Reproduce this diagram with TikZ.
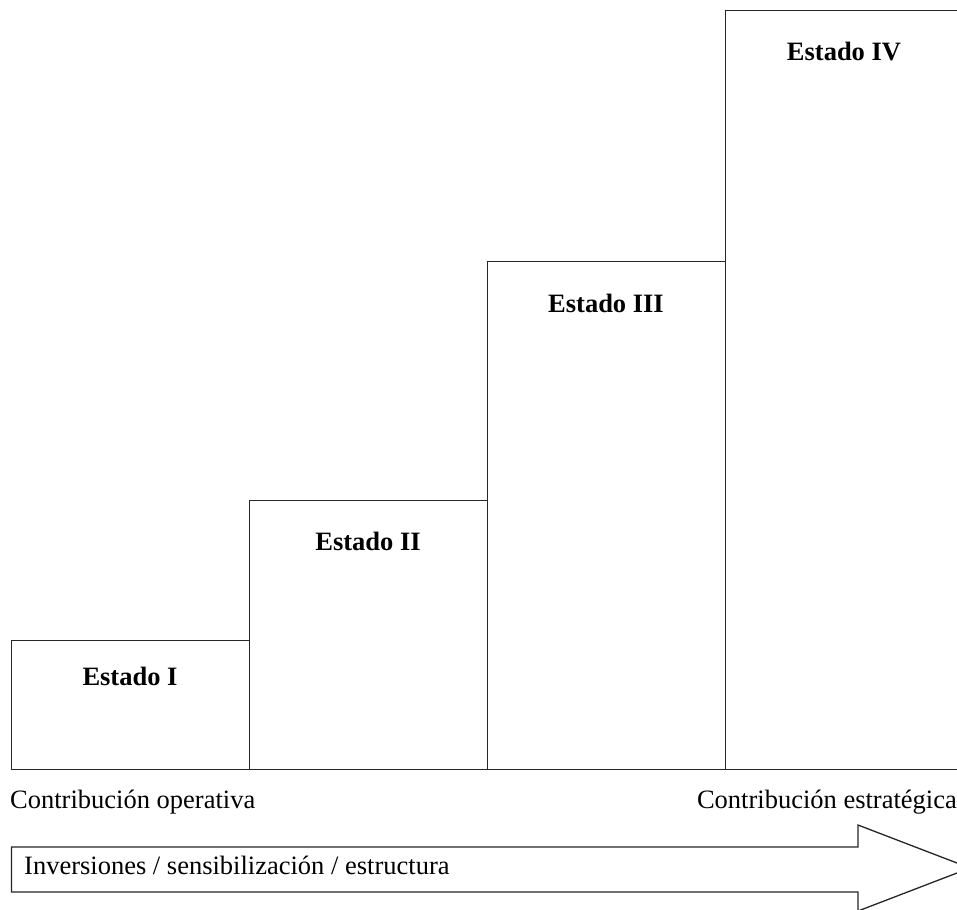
\documentclass[tikz,border=0pt]{standalone}
\usepackage{fontspec}
\setmainfont{Liberation Serif}
\begin{document}
\begin{tikzpicture}[x=1pt,y=-1pt,
  ln/.style={line width=1.3pt, draw=black!85},
  stbox/.style={ln, rectangle, inner sep=0, anchor=north west, minimum width=238pt},
  stlbl/.style={anchor=base, inner sep=0, font=\fontsize{26.5}{30}\selectfont\bfseries},
  txt/.style={inner sep=0, font=\fontsize{26.5}{30}\selectfont}]
\useasboundingbox (0,0) rectangle (957,909);
\clip (0,0) rectangle (957,909);
\node[stbox, minimum height=129pt] (s1) at (11,640) {};
\node[stbox, minimum height=269pt] (s2) at (249,500) {};
\node[stbox, minimum height=508pt] (s3) at (487,261) {};
\node[stbox, minimum height=759pt] (s4) at (725,10) {};
\node[stlbl] (l1) at (130,685) {Estado I};
\node[stlbl] (l2) at (368,550) {Estado II};
\node[stlbl] (l3) at (606,312) {Estado III};
\node[stlbl] (l4) at (844,61) {Estado IV};
\node[txt, anchor=base west] (co) at (10,808) {Contribución operativa};
\node[txt, anchor=base east] (ce) at (957,808) {Contribución estratégica};
\draw[ln, fill=white] (11.5,847) -- (858,847) -- (858,825) -- (970,868) -- (858,911) -- (858,892) -- (11.5,892) -- cycle;
\node[txt, anchor=base west] (inv) at (24,874) {Inversiones / sensibilización / estructura};
\end{tikzpicture}
\end{document}
